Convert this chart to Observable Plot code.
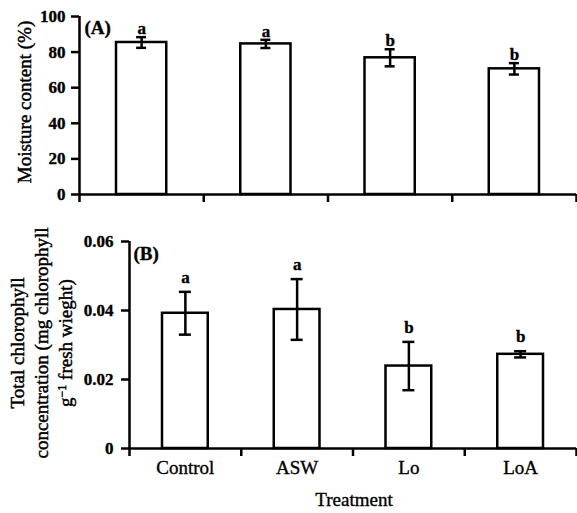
<!DOCTYPE html>
<html><head><meta charset="utf-8">
<script src="https://cdn.jsdelivr.net/npm/d3@7"></script>
<script src="https://cdn.jsdelivr.net/npm/@observablehq/plot@0.6"></script>
<style>
body{margin:0;background:#fff;}
#chart{position:relative;width:577px;height:513px;font-family:"Liberation Serif",serif;color:#000;}
#chart svg{position:absolute;left:0;overflow:visible;}
#chart svg text{stroke:#000;stroke-width:0.35px;paint-order:stroke;}
.lab{position:absolute;transform:translate(-50%,-50%) rotate(-90deg);white-space:nowrap;text-align:center;font-family:"Liberation Serif",serif;font-size:19px;line-height:24px;-webkit-text-stroke:0.45px #000;}
.xlab{position:absolute;transform:translate(-50%,-50%);white-space:nowrap;font-family:"Liberation Serif",serif;font-size:19px;-webkit-text-stroke:0.35px #000;}
sup{font-size:12px;vertical-align:6px;line-height:0;}
</style></head><body><div id="chart"></div><script>
const treatments = ["Control", "ASW", "Lo", "LoA"];
const moisture = [85.4, 84.6, 76.8, 70.6];
const moistureErr = [3.0, 2.3, 4.8, 3.2];
const moistureLetters = ["a", "a", "b", "b"];
const moistureTicks = [0, 20, 40, 60, 80, 100];
const chlorophyll = [0.0392, 0.0403, 0.0239, 0.0273];
const chlorophyllErr = [0.0062, 0.0088, 0.0070, 0.0009];
const chlorophyllLetters = ["a", "a", "b", "b"];
const chlorophyllTicks = [0, 0.02, 0.04, 0.06];
const boundaries = [0, 1, 2, 3, 4];

function panel(o) {
  const rows = treatments.map((t, i) => ({t, i, v: o.values[i], e: o.errs[i], letter: o.letters[i]}));
  const c = d => d.i + 0.5;
  const marks = [
    Plot.rect(rows, {x1: d => d.i, x2: d => d.i + 1, y1: 0, y2: "v", fill: "white", stroke: "black", strokeWidth: 2.5, insetLeft: o.inset, insetRight: o.inset}),
    Plot.ruleX(rows, {x: c, y1: d => d.v - d.e, y2: d => d.v + d.e, stroke: "black", strokeWidth: 2.5}),
    Plot.ruleY(rows, {x1: c, x2: c, y: d => d.v - d.e, insetLeft: -o.cap, insetRight: -o.cap, stroke: "black", strokeWidth: 2.5}),
    Plot.ruleY(rows, {x1: c, x2: c, y: d => d.v + d.e, insetLeft: -o.cap, insetRight: -o.cap, stroke: "black", strokeWidth: 2.5}),
    Plot.text(rows, {x: c, y: d => d.v + d.e, text: "letter", dy: o.letterDy, lineAnchor: "bottom", fontSize: 17, fontWeight: "bold"}),
    Plot.ruleY([0], {stroke: "black", strokeWidth: 2.5}),
    Plot.ruleX([0], {stroke: "black", strokeWidth: 2.5}),
    Plot.axisY({ticks: o.ticks, tickSize: 8, tickPadding: o.tickPadding, strokeWidth: 2.5, fontSize: 17, fontWeight: "bold", label: null, tickFormat: d => String(d)}),
    Plot.axisX({ticks: boundaries, tickSize: 8, tickFormat: () => "", strokeWidth: 2.5, label: null}),
    Plot.text([o.tag], {frameAnchor: "top-left", dx: o.tagDx, dy: o.tagDy, lineAnchor: "middle", textAnchor: "start", fontSize: 19, fontWeight: "bold"})
  ];
  if (o.showCats) {
    marks.push(Plot.axisX({ticks: [0.5, 1.5, 2.5, 3.5], tickSize: 0, tickPadding: 12, tickFormat: d => treatments[Math.round(d - 0.5)], fontSize: 19, label: null}));
  }
  const svg = Plot.plot({
    width: 577, height: o.height,
    marginTop: o.mt, marginBottom: o.mb, marginLeft: o.ml, marginRight: 1,
    x: {domain: [0, 4]},
    y: {domain: o.domain},
    style: {fontFamily: "Liberation Serif", fontSize: "17px", color: "black", background: "white"},
    marks
  });
  svg.style.top = o.top + "px";
  return svg;
}

const chart = document.getElementById("chart");
chart.appendChild(panel({values: moisture, errs: moistureErr, letters: moistureLetters, ticks: moistureTicks, domain: [0, 100],
  height: 215, mt: 16, mb: 21, ml: 79, inset: 37, cap: 5, letterDy: -3, tickPadding: 6, tag: "(A)", tagDx: 5, tagDy: 11, top: 0, showCats: false}));
chart.appendChild(panel({values: chlorophyll, errs: chlorophyllErr, letters: chlorophyllLetters, ticks: chlorophyllTicks, domain: [0, 0.06],
  height: 298, mt: 26, mb: 65, ml: 129, inset: 33, cap: 6, letterDy: -9, tickPadding: 8, tag: "(B)", tagDx: 4, tagDy: 12, top: 215, showCats: true}));

function addLabel(html, cls, x, y) {
  const d = document.createElement("div");
  d.className = cls; d.innerHTML = html;
  d.style.left = x + "px"; d.style.top = y + "px";
  chart.appendChild(d);
}
addLabel("Moisture content (%)", "lab", 25, 102);
addLabel("Total chlorophyll<br>concentration (mg chlorophyll<br>g<sup>−1</sup> fresh wieght)", "lab", 42, 343);
addLabel("Treatment", "xlab", 354, 500);
</script></body></html>
